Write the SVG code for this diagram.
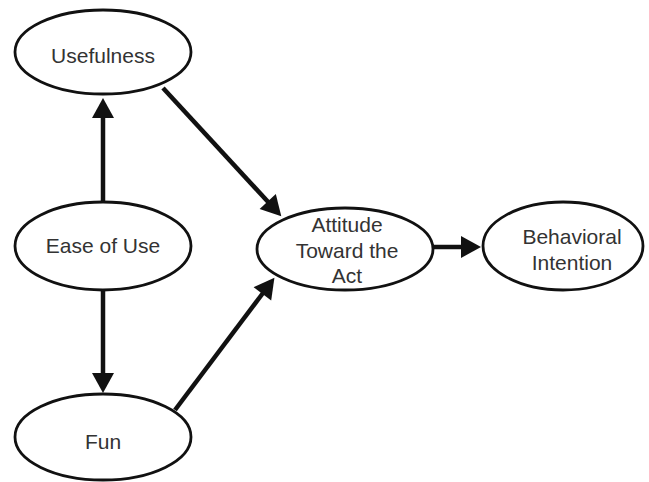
<svg xmlns="http://www.w3.org/2000/svg" width="649" height="482" viewBox="0 0 649 482">
<defs>
<style>
.node ellipse{fill:#fff;stroke:#111;stroke-width:2.8}
.node text{font-family:"Liberation Sans",Arial,sans-serif;font-size:21px;fill:#333;text-anchor:middle}
.edges line{stroke:#111;stroke-width:4.5;fill:none;marker-end:url(#ah)}
</style>
<marker id="ah" markerUnits="userSpaceOnUse" markerWidth="22" markerHeight="24" refX="1" refY="11" orient="auto" overflow="visible">
<path d="M0,0 L20,11 L0,22 z" fill="#111"/>
</marker>
</defs>
<rect width="649" height="482" fill="#fff"/>
<g class="edges" id="connectors">
<line x1="103" y1="202" x2="103" y2="117"/>
<line x1="103" y1="290" x2="103" y2="374"/>
<line x1="163" y1="88" x2="268.4" y2="202.3"/>
<line x1="175" y1="410" x2="263" y2="293"/>
<line x1="433" y1="247" x2="462" y2="247"/>
</g>
<g class="node" id="usefulness">
<ellipse cx="103" cy="52" rx="88" ry="42"/>
<text x="103" y="63">Usefulness</text>
</g>
<g class="node" id="ease">
<ellipse cx="103" cy="246" rx="88" ry="44"/>
<text x="103" y="253">Ease of Use</text>
</g>
<g class="node" id="fun">
<ellipse cx="103" cy="437" rx="88" ry="43"/>
<text x="103" y="449">Fun</text>
</g>
<g class="node" id="attitude">
<ellipse cx="345" cy="249" rx="88" ry="41"/>
<text x="347" y="232">Attitude</text>
<text x="347" y="258">Toward the</text>
<text x="347" y="283">Act</text>
</g>
<g class="node" id="intention">
<ellipse cx="563" cy="246" rx="80" ry="44"/>
<text x="572" y="244">Behavioral</text>
<text x="572" y="270">Intention</text>
</g>
</svg>
